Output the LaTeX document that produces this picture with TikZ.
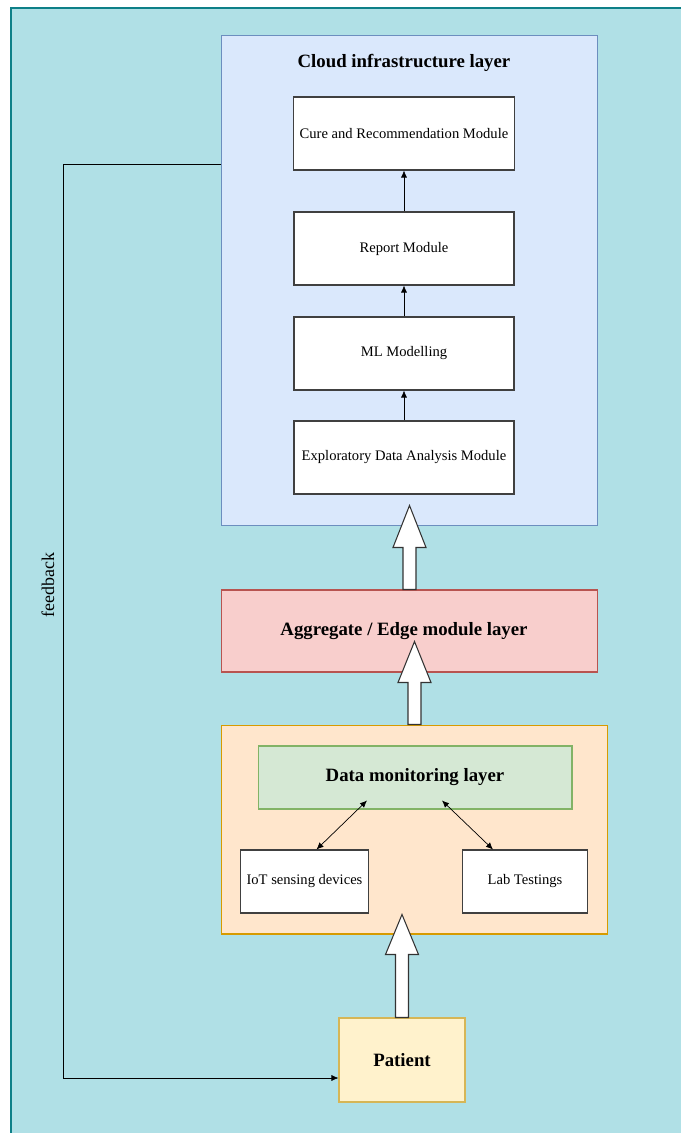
\documentclass[tikz,border=0pt]{standalone}
\usepackage{fontspec}
\setmainfont{Liberation Serif}
\usepackage{tikz}
\usetikzlibrary{arrows,arrows.meta,calc,positioning}
\definecolor{bgteal}{HTML}{B0E0E6}
\definecolor{bgline}{HTML}{0E8088}
\definecolor{cloudfill}{HTML}{DAE8FC}
\definecolor{clouddraw}{HTML}{6C8EBF}
\definecolor{edgefill}{HTML}{F8CECC}
\definecolor{edgedraw}{HTML}{B85450}
\definecolor{monfill}{HTML}{FFE6CC}
\definecolor{mondraw}{HTML}{D79B00}
\definecolor{datafill}{HTML}{D5E8D4}
\definecolor{datadraw}{HTML}{82B366}
\definecolor{patfill}{HTML}{FFF2CC}
\definecolor{patdraw}{HTML}{D6B656}
\tikzset{smallfont/.style = {font=\fontsize{8.3}{10}\selectfont}}
\tikzset{bigfont/.style = {font=\fontsize{10.7}{13}\selectfont\bfseries}}
\tikzstyle{layer}=[rectangle, draw, line width=0.6pt, inner sep=0pt]
\tikzstyle{module}=[rectangle, draw=black!75, fill=white, line width=0.6pt, minimum width=4.4cm, minimum height=1.46cm, smallfont]
\tikzstyle{device}=[rectangle, draw=black!75, fill=white, line width=0.6pt, minimum width=2.5cm, minimum height=1.26cm, smallfont]
\tikzstyle{legend_normal}=[rectangle]
% hollow block arrow pointing up: start point, shaft length, head length
\newcommand{\blockarrow}[3]{%
  \draw[line width=0.6pt, draw=black!80, fill=white]
    ($#1+(-6.5,0)$) -- ++(0,-#2) -- ++(-10,0) -- ($#1+(0,-#2-#3)$)
    -- ($#1+(16.5,-#2)$) -- ++(-10,0) -- ($#1+(6.5,0)$) -- cycle;}

\begin{document}
\begin{tikzpicture}[x=0.02cm, y=-0.02cm, link/.style={thin,-{Latex[length=4pt,width=3.5pt]}}, twoway/.style={thin,{Latex[length=4pt,width=3.5pt]}-{Latex[length=4pt,width=3.5pt]}}]
\useasboundingbox (0,0) rectangle (681,1133);

% background
\fill[bgteal] (11,8) rectangle (681,1133);
\draw[bgline, line width=0.8pt] (11,1133) -- (11,8) -- (681,8);

% layers
\node[layer, draw=clouddraw, fill=cloudfill, minimum width=7.54cm, minimum height=9.82cm] (cloud) at (409.5,280.5) {};
\node[legend_normal, bigfont] (cloudtitle) at (404,63) {Cloud infrastructure layer};
\node[layer, draw=edgedraw, fill=edgefill, minimum width=7.54cm, minimum height=1.64cm] (edge) at (409.5,631) {};
\node[layer, draw=mondraw, fill=monfill, minimum width=7.74cm, minimum height=4.18cm] (monitor) at (414.5,829.5) {};
\node[layer, draw=datadraw, fill=datafill, minimum width=6.28cm, minimum height=1.26cm, bigfont] (data) at (415,777.5) {Data monitoring layer};
\node[layer, draw=patdraw, fill=patfill, minimum width=2.52cm, minimum height=1.68cm, bigfont] (patient) at (402,1060) {Patient};

% cloud modules
\node[module] (cure) at (404,133.5) {Cure and Recommendation Module};
\node[module] (report) at (404,248.5) {Report Module};
\node[module] (ml) at (404,353.5) {ML Modelling};
\node[module] (eda) at (404,457.5) {Exploratory Data Analysis Module};

\path[link] (eda) edge (ml);
\path[link] (ml) edge (report);
\path[link] (report) edge (cure);

% devices
\node[device] (iot) at (304.5,881.5) {IoT sensing devices};
\node[device] (lab) at (525,881.5) {Lab Testings};

\draw[twoway] ($(data.south)+(-48,-9)$) -- ($(iot.north)+(12,0)$);
\draw[twoway] ($(data.south)+(27,-9)$) -- ($(lab.north)+(-32,0)$);

% block arrows
\blockarrow{(patient.north)}{63}{40}
\blockarrow{(monitor.north)}{42}{41}
\blockarrow{(edge.north)}{42}{42}
\node[legend_normal, bigfont] (edgetitle) at (404,631) {Aggregate / Edge module layer};

% feedback loop
\coordinate (fb) at ($(cloud.north west)+(0,130)$);
\draw[link] (fb) -- ++(-157,0) |- ($(patient.west)+(0,18)$);
\node[legend_normal, rotate=90, font=\fontsize{10.2}{12}\selectfont] (fblabel) at (48,585) {feedback};
\end{tikzpicture}
\end{document}
